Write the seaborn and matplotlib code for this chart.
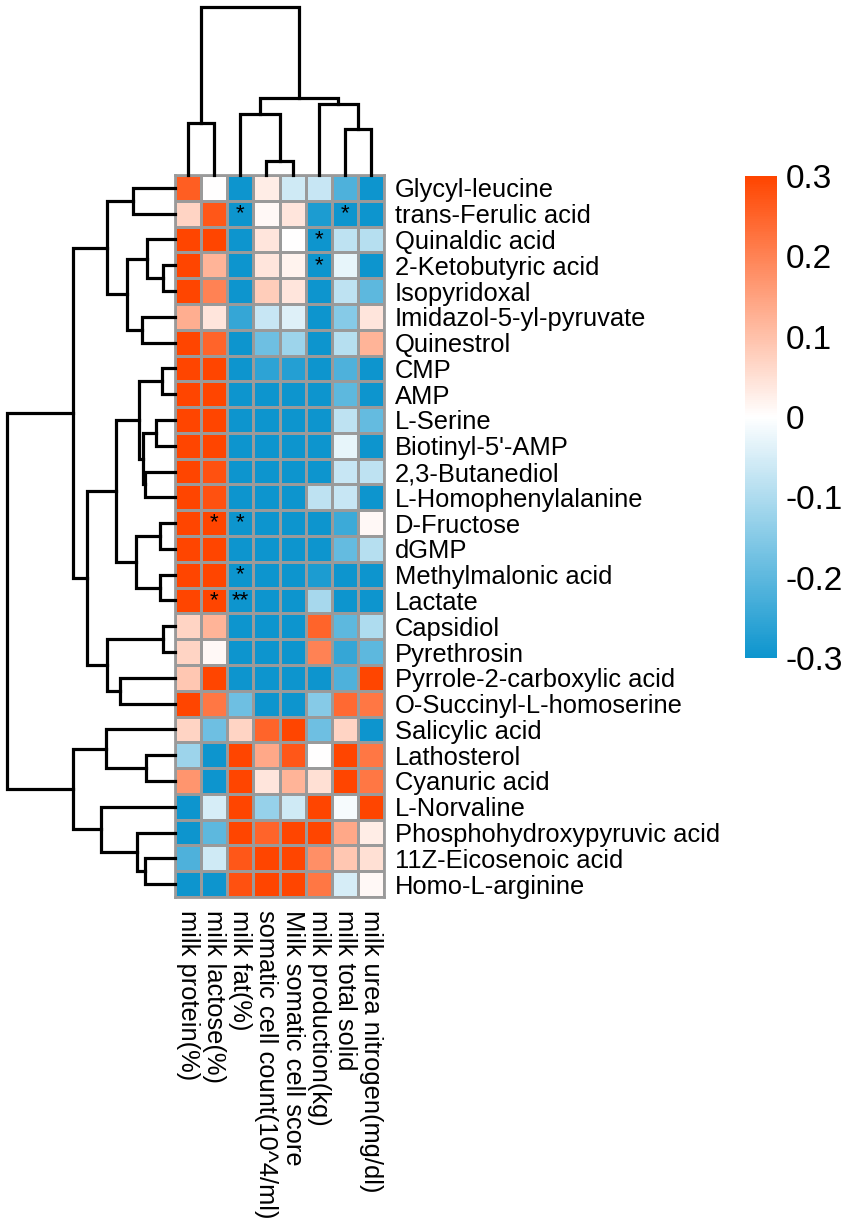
import numpy as np
import pandas as pd
import seaborn as sns
import matplotlib
matplotlib.use("Agg")
import matplotlib.pyplot as plt
from matplotlib.colors import LinearSegmentedColormap

# ---------------- data ----------------
metabolites = ["Glycyl-leucine", "trans-Ferulic acid", "Quinaldic acid", "2-Ketobutyric acid",
               "Isopyridoxal", "Imidazol-5-yl-pyruvate", "Quinestrol", "CMP", "AMP", "L-Serine",
               "Biotinyl-5'-AMP", "2,3-Butanediol", "L-Homophenylalanine", "D-Fructose", "dGMP",
               "Methylmalonic acid", "Lactate", "Capsidiol", "Pyrethrosin",
               "Pyrrole-2-carboxylic acid", "O-Succinyl-L-homoserine", "Salicylic acid",
               "Lathosterol", "Cyanuric acid", "L-Norvaline", "Phosphohydroxypyruvic acid",
               "11Z-Eicosenoic acid", "Homo-L-arginine"]

traits = ["milk protein(%)", "milk lactose(%)", "milk fat(%)", "somatic cell count(10^4/ml)",
          "Milk somatic cell score", "milk production(kg)", "milk total solid",
          "milk urea nitrogen(mg/dl)"]

milk_protein = [0.26, 0.07, 0.30, 0.30, 0.30, 0.13, 0.30, 0.30, 0.30, 0.30, 0.30, 0.30, 0.30, 0.30,
                0.30, 0.30, 0.30, 0.07, 0.07, 0.09, 0.30, 0.07, -0.12, 0.17, -0.30, -0.30, -0.22, -0.30]
milk_lactose = [0.00, 0.27, 0.30, 0.12, 0.20, 0.04, 0.25, 0.30, 0.30, 0.30, 0.30, 0.28, 0.28, 0.30,
                0.30, 0.30, 0.30, 0.12, 0.01, 0.30, 0.22, -0.18, -0.30, -0.30, -0.05, -0.20, -0.06, -0.30]
milk_fat = [-0.30, -0.30, -0.30, -0.30, -0.30, -0.25, -0.30, -0.30, -0.30, -0.30, -0.30, -0.30, -0.30,
            -0.30, -0.30, -0.30, -0.30, -0.30, -0.30, -0.30, -0.18, 0.07, 0.30, 0.30, 0.30, 0.30, 0.27, 0.28]
somatic_cell_count = [0.03, 0.01, 0.04, 0.04, 0.08, -0.07, -0.18, -0.26, -0.30, -0.30, -0.30, -0.30,
                      -0.30, -0.30, -0.30, -0.30, -0.30, -0.30, -0.30, -0.30, -0.30, 0.25, 0.14, 0.04,
                      -0.13, 0.25, 0.30, 0.30]
somatic_cell_score = [-0.06, 0.04, 0.00, 0.02, 0.04, -0.04, -0.12, -0.27, -0.30, -0.30, -0.30, -0.30,
                      -0.30, -0.30, -0.30, -0.30, -0.30, -0.30, -0.30, -0.30, -0.30, 0.30, 0.27, 0.12,
                      -0.06, 0.30, 0.30, 0.30]
milk_production = [-0.07, -0.28, -0.30, -0.30, -0.30, -0.30, -0.30, -0.30, -0.30, -0.30, -0.30, -0.30,
                   -0.08, -0.30, -0.30, -0.28, -0.11, 0.25, 0.20, -0.30, -0.15, -0.18, 0.00, 0.05,
                   0.30, 0.30, 0.18, 0.22]
milk_total_solid = [-0.22, -0.30, -0.08, -0.03, -0.08, -0.15, -0.09, -0.22, -0.20, -0.08, -0.03, -0.07,
                    -0.07, -0.24, -0.19, -0.30, -0.30, -0.20, -0.25, -0.22, 0.24, 0.07, 0.30, 0.30,
                    -0.01, 0.14, 0.09, -0.05]
milk_urea_nitrogen = [-0.30, -0.30, -0.09, -0.30, -0.20, 0.04, 0.12, -0.30, -0.30, -0.19, -0.30, -0.08,
                      -0.30, 0.01, -0.09, -0.30, -0.30, -0.10, -0.20, 0.30, 0.22, -0.30, 0.22, 0.22,
                      0.30, 0.03, 0.05, 0.01]

# significance marks: (row, column, mark)
significance = [(1, 2, "*"), (1, 6, "*"), (2, 5, "*"), (3, 5, "*"), (13, 1, "*"), (13, 2, "*"),
                (15, 2, "*"), (16, 1, "*"), (16, 2, "**")]

# dendrograms as nested (height, left, right); leaves are row / column indices
row_tree = (168,
            (102,
             (68, (42, 0, 1), (48, (28, 2, (12, 3, 4)), (33, 5, 6))),
             (88,
              (59, (36, (13, 7, 8), (32, (19, 9, 10), (30, 11, 12))),
               (39, (15, 13, 14), (15, 15, 16))),
              (68, (12, 17, 18), (55, 19, 20)))),
            (102,
             (69, 21, (29, 22, 23)),
             (74, 24, (38, 25, (30, 26, 27)))))
col_tree = (168, (52, 0, 1), (77, (61, 2, (14, 3, 4)), (71, 5, (46, 6, 7))))

cbar_ticks = [0.3, 0.2, 0.1, 0.0, -0.1, -0.2, -0.3]
cbar_labels = ["0.3", "0.2", "0.1", "0", "-0.1", "-0.2", "-0.3"]

# ---------------- figure ----------------
plt.rcParams["font.family"] = ["Liberation Sans", "DejaVu Sans"]

df = pd.DataFrame({t: v for t, v in zip(traits, [milk_protein, milk_lactose, milk_fat,
                                                   somatic_cell_count, somatic_cell_score,
                                                   milk_production, milk_total_solid,
                                                   milk_urea_nitrogen])}, index=metabolites)
annot = np.full(df.shape, "", dtype=object)
for r, c, m in significance:
    annot[r, c] = m

W, H = 851, 1229
fig = plt.figure(figsize=(W / 100, H / 100), dpi=100)


def box(x0, y0, x1, y1):
    return [x0 / W, 1 - y1 / H, (x1 - x0) / W, (y1 - y0) / H]


ax_hm = fig.add_axes(box(175, 175, 384, 897))
ax_row = fig.add_axes(box(0, 175, 175, 897))
ax_col = fig.add_axes(box(175, 0, 384, 175))
cax = fig.add_axes(box(745, 176, 777, 658))

cmap = LinearSegmentedColormap.from_list("bwo", ["#0D95CE", "#FFFFFF", "#FF4500"])

sns.heatmap(df, ax=ax_hm, cmap=cmap, vmin=-0.3, vmax=0.3, linewidths=2, linecolor="#9A9A9A",
            annot=annot, fmt="", annot_kws=dict(fontsize=16, color="black"),
            cbar_ax=cax)

ax_hm.yaxis.tick_right()
ax_hm.set_yticks(np.arange(len(metabolites)) + 0.5)
ax_hm.set_yticklabels(metabolites, rotation=0, fontsize=18.4, ha="left")
ax_hm.set_xticks(np.arange(len(traits)) + 0.5)
ax_hm.set_xticklabels(traits, rotation=-90, fontsize=18.4, ha="center", va="top")
ax_hm.tick_params(axis="both", length=0)
ax_hm.tick_params(axis="y", pad=8)
ax_hm.tick_params(axis="x", pad=9)
ax_hm.set_xlabel("")
ax_hm.set_ylabel("")
for s in ax_hm.spines.values():
    s.set_visible(True)
    s.set_color("#9A9A9A")
    s.set_linewidth(2)

cbar = ax_hm.collections[0].colorbar
cbar.outline.set_visible(False)
cbar.set_ticks(cbar_ticks)
cbar.set_ticklabels(cbar_labels)
cax.tick_params(length=0, labelsize=24, pad=6)


def draw_tree(ax, node, orient):
    if isinstance(node, int):
        return node + 0.5, 0.0
    h, a, b = node
    pa, ha = draw_tree(ax, a, orient)
    pb, hb = draw_tree(ax, b, orient)
    pos = [pa, pa, pb, pb]
    hts = [ha, h, h, hb]
    if orient == "top":
        ax.plot(pos, hts, color="black", lw=2.3, clip_on=False, solid_joinstyle="miter")
    else:
        ax.plot(hts, pos, color="black", lw=2.3, clip_on=False, solid_joinstyle="miter")
    return (pa + pb) / 2, h


draw_tree(ax_row, row_tree, "left")
ax_row.set_xlim(175, 0)
ax_row.set_ylim(len(metabolites), 0)
ax_row.axis("off")

draw_tree(ax_col, col_tree, "top")
ax_col.set_xlim(0, len(traits))
ax_col.set_ylim(0, 175)
ax_col.axis("off")

fig.savefig("out.png", dpi=100)
